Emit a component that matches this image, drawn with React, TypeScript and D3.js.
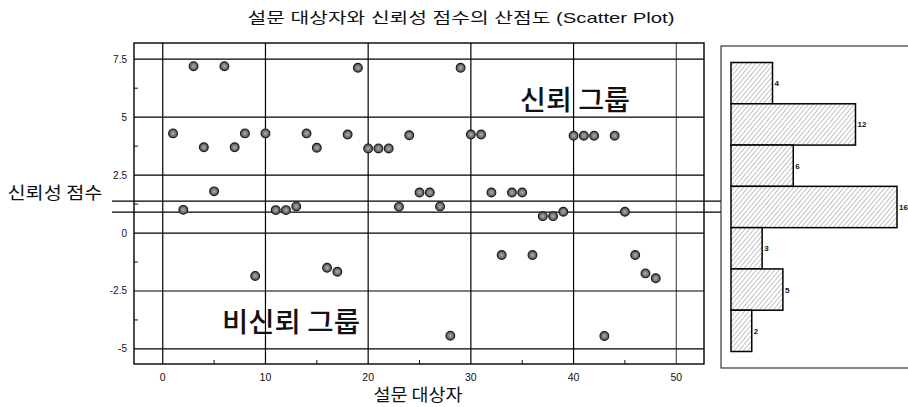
import React from "react";
import * as d3 from "d3";

const subjects = [1,2,3,4,5,6,7,8,9,10,11,12,13,14,15,16,17,18,19,20,21,22,23,24,25,26,27,28,29,30,31,32,33,34,35,36,37,38,39,40,41,42,43,44,45,46,47,48];
const scores = [4.3,1.0,7.2,3.7,1.8,7.2,3.7,4.3,-1.85,4.3,0.99,0.99,1.15,4.3,3.68,-1.5,-1.67,4.25,7.13,3.65,3.65,3.65,1.13,4.22,1.75,1.75,1.15,-4.43,7.13,4.25,4.25,1.75,-0.95,1.75,1.75,-0.95,0.73,0.73,0.92,4.2,4.2,4.2,-4.44,4.2,0.92,-0.95,-1.74,-1.95];
const xTicks = [0,10,20,30,40,50];
const yTicks = [7.5,5,2.5,0,-2.5,-5];
const yMinorTicks = [6.25,3.75,1.25,-1.25,-3.75];
const xMinorTicks = [5,15,25,35,45];
const refLines = [1.38, 0.9];
const histBins = ["b1","b2","b3","b4","b5","b6","b7"];
const histCounts = [4,12,6,16,3,5,2];

const W = 908, H = 407;
const FONT = "'Liberation Sans', Arial, 'Noto Sans CJK KR', sans-serif";
const KFONT = "'Noto Sans CJK KR', sans-serif";

export default function App() {
  const x = d3.scaleLinear().domain([-2.8, 52.7]).range([134, 704]);
  const y = d3.scaleLinear().domain([-5.65, 8.2]).range([364, 43]);
  const hy = d3.scaleBand().domain(histBins).range([62.5, 351.5]).padding(0);
  const hx = d3.scaleLinear().domain([0, 16]).range([731, 897]);

  return (
    <svg width={W} height={H} style={{ position: "absolute", left: 0, top: 0, background: "#fff" }}>
      <defs>
        <pattern id="hatch" patternUnits="userSpaceOnUse" width="3.5" height="3.5" patternTransform="rotate(40)">
          <rect width="3.5" height="3.5" fill="#fff" />
          <line x1="0" y1="0" x2="0" y2="3.5" stroke="#8a8a8a" strokeWidth="1" />
        </pattern>
        <radialGradient id="dot" cx="50%" cy="50%" r="50%">
          <stop offset="0%" stopColor="#b0b0b0" />
          <stop offset="55%" stopColor="#7a7a7a" />
          <stop offset="100%" stopColor="#444" />
        </radialGradient>
      </defs>
      <rect x={0} y={0} width={W} height={H} fill="#fff" />

      <text x={461} y={23} textAnchor="middle" fontFamily={FONT} fontSize={15} fill="#111" textLength={427} lengthAdjust="spacingAndGlyphs">
        설문 대상자와 신뢰성 점수의 산점도 (Scatter Plot)
      </text>

      {/* grid */}
      {yTicks.map((t) => (
        <line key={"gy" + t} x1={x.range()[0]} x2={x.range()[1]} y1={y(t)} y2={y(t)} stroke="#000" strokeWidth={1.2} />
      ))}
      {xTicks.map((t) => (
        <line key={"gx" + t} x1={x(t)} x2={x(t)} y1={y.range()[1]} y2={y.range()[0]} stroke="#000" strokeWidth={t === 50 ? 0.8 : 1.2} />
      ))}
      {yMinorTicks.map((t) => (
        <line key={"my" + t} x1={x.range()[0]} x2={x.range()[0] + 4} y1={y(t)} y2={y(t)} stroke="#111" strokeWidth={1} />
      ))}
      {xMinorTicks.map((t) => (
        <line key={"mx" + t} x1={x(t)} x2={x(t)} y1={y.range()[0]} y2={y.range()[0] - 4} stroke="#111" strokeWidth={1} />
      ))}
      {/* frame */}
      <rect x={x.range()[0]} y={y.range()[1]} width={x.range()[1] - x.range()[0]} height={y.range()[0] - y.range()[1]} fill="none" stroke="#000" strokeWidth={1.4} />

      {/* reference lines */}
      {refLines.map((v, i) => (
        <line key={"ref" + i} x1={112} x2={721} y1={y(v)} y2={y(v)} stroke="#000" strokeWidth={1.2} />
      ))}

      {/* tick labels */}
      {yTicks.map((t) => (
        <text key={"ty" + t} x={127} y={y(t) + 3.5} textAnchor="end" fontFamily={FONT} fontSize={10} fill="#111">{String(t)}</text>
      ))}
      {xTicks.map((t) => (
        <text key={"tx" + t} x={x(t)} y={381} textAnchor="middle" fontFamily={FONT} fontSize={10.5} fill="#111">{String(t)}</text>
      ))}

      {/* points */}
      {subjects.map((s, i) => (
        <circle key={"p" + s} cx={x(s)} cy={y(scores[i])} r={4.4} fill="url(#dot)" stroke="#1a1a1a" strokeWidth={1.1} />
      ))}

      {/* group labels */}
      <text x={575} y={110} textAnchor="middle" fontFamily={KFONT} fontSize={27} fontWeight={500} fill="#111" textLength={110} lengthAdjust="spacingAndGlyphs">신뢰 그룹</text>
      <text x={291} y={332} textAnchor="middle" fontFamily={KFONT} fontSize={27} fontWeight={500} fill="#111" textLength={138} lengthAdjust="spacingAndGlyphs">비신뢰 그룹</text>

      {/* axis titles */}
      <text x={418} y={401} textAnchor="middle" fontFamily={KFONT} fontSize={17} fill="#111" textLength={89} lengthAdjust="spacingAndGlyphs">설문 대상자</text>
      <text x={55} y={199} textAnchor="middle" fontFamily={KFONT} fontSize={17} fill="#111" textLength={95} lengthAdjust="spacingAndGlyphs">신뢰성 점수</text>

      {/* histogram panel */}
      <rect x={721} y={46} width={200} height={322} fill="none" stroke="#111" strokeWidth={1} />
      {histBins.map((b, i) => (
        <g key={b}>
          <rect x={hx(0)} y={hy(b)} width={hx(histCounts[i]) - hx(0)} height={hy.bandwidth()} fill="url(#hatch)" stroke="#000" strokeWidth={1.5} />
          <text x={hx(histCounts[i]) + 2} y={(hy(b) as number) + hy.bandwidth() / 2 + 3} fontFamily={FONT} fontSize={8} fontWeight="bold" fill="#111">{String(histCounts[i])}</text>
        </g>
      ))}
    </svg>
  );
}
